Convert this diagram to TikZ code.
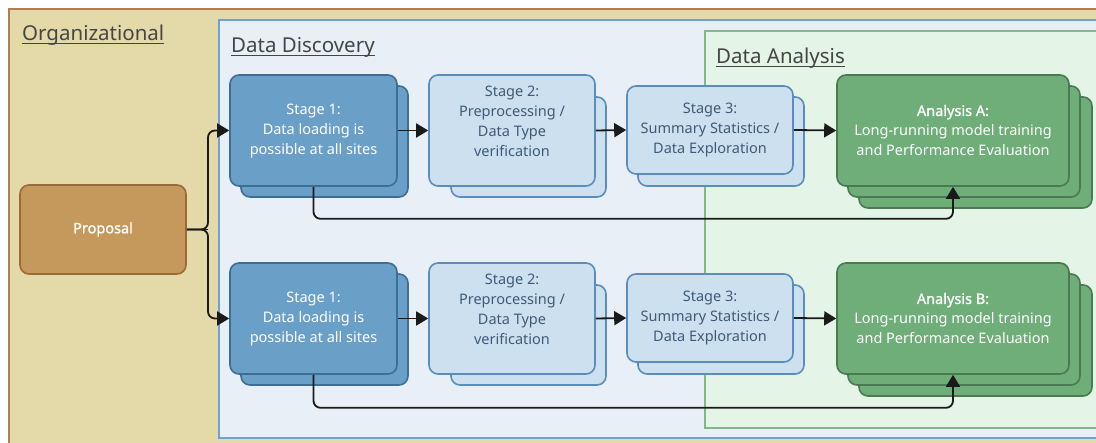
\documentclass[tikz,border=0pt]{standalone}
\usepackage{fontspec}
\setmainfont{Noto Sans}
\newfontfamily\heavyfont[FakeBold=1.2]{Noto Sans}
\usetikzlibrary{arrows.meta}

\definecolor{orgfill}{HTML}{E3D9A9}
\definecolor{orgline}{HTML}{B07F52}
\definecolor{ddfill}{HTML}{E8EFF7}
\definecolor{ddline}{HTML}{6FA1D2}
\definecolor{dafill}{HTML}{E4F4E6}
\definecolor{daline}{HTML}{82B883}
\definecolor{s1fill}{HTML}{6A9FC7}
\definecolor{s1line}{HTML}{3E6D95}
\definecolor{s2fill}{HTML}{CDE0EF}
\definecolor{s2line}{HTML}{5B8CBC}
\definecolor{s2text}{HTML}{3F5A78}
\definecolor{anfill}{HTML}{6FAE78}
\definecolor{anline}{HTML}{4A7A52}
\definecolor{prfill}{HTML}{C4995B}
\definecolor{prline}{HTML}{9A6A3B}
\definecolor{headtext}{HTML}{454545}
\definecolor{arrowcol}{HTML}{1A1A1A}

\begin{document}
\begin{tikzpicture}[x=1pt,y=-1pt,
  container/.style={line width=1.6pt},
  heading/.style={anchor=base west, inner sep=0pt, text=headtext,
    font=\fontsize{20.5}{24}\selectfont},
  headline/.style={draw=headtext, line width=1.2pt},
  box/.style={draw, rounded corners=9pt, line width=1.6pt, inner sep=0pt,
    align=center, font=\fontsize{14.5}{20}\selectfont},
  stageone/.style={box, fill=s1fill, draw=s1line, text=white},
  stagetwo/.style={box, fill=s2fill, draw=s2line, text=s2text},
  analysis/.style={box, fill=anfill, draw=anline, text=white},
  proposal/.style={box, fill=prfill, draw=prline, text=white},
  flow/.style={draw=arrowcol, line width=1.8pt, rounded corners=7pt,
    -{Triangle[length=12pt,width=14pt]}},
  link/.style={draw=arrowcol, line width=1.8pt, rounded corners=7pt}
]
\useasboundingbox (0,0) rectangle (1096,443);
\clip (0,0) rectangle (1096,443);

% nested areas
\draw[container, fill=orgfill, draw=orgline] (9,9) rectangle (1120,470);
\draw[container, fill=ddfill, draw=ddline] (219,20) rectangle (1120,438);
\draw[container, fill=dafill, draw=daline] (705,31) rectangle (1120,428);

% area headings
\node[heading] (horg) at (22,41) {Organizational};
\node[heading] (hdd) at (231,53) {Data Discovery};
\node[heading] (hda) at (716,64) {Data Analysis};
\foreach \h in {horg,hdd,hda}
  \draw[headline] ([yshift=-2.5pt]\h.base west) -- ([yshift=-2.5pt]\h.base east);

% proposal
\node[proposal, minimum width=166pt, minimum height=89pt] (prop) at (103,229.5)
  {{\heavyfont Proposal}};

% two parallel pipelines
\foreach \row/\dy/\tag in {a/0/A, b/188/B}{
  % stage 1
  \node[stageone, minimum width=167pt, minimum height=111pt] (s1\row back) at (324.5,141.5+\dy) {};
  \node[stageone, minimum width=167pt, minimum height=111pt] (s1\row) at (313.5,130.5+\dy)
    {Stage 1:\\Data loading is\\possible at all sites};
  % stage 2
  \node[stagetwo, minimum width=155pt, minimum height=100pt] (s2\row back) at (528.5,147+\dy) {};
  \node[stagetwo, minimum width=166pt, minimum height=111pt] (s2\row) at (512,130.5+\dy) {};
  \node[align=center, text=s2text, inner sep=0pt, font=\fontsize{14.5}{20}\selectfont]
    (s2\row text) at (512,121.5+\dy) {Stage 2:\\Preprocessing /\\Data Type\\verification};
  % stage 3
  \node[stagetwo, minimum width=166pt, minimum height=89pt] (s3\row back) at (721,141.5+\dy) {};
  \node[stagetwo, minimum width=166pt, minimum height=88pt] (s3\row) at (710,130+\dy)
    {Stage 3:\\Summary Statistics /\\Data Exploration};
  % analysis
  \node[analysis, minimum width=233pt, minimum height=111pt] (an\row back) at (975.5,152.5+\dy) {};
  \node[analysis, minimum width=232pt, minimum height=111pt] (an\row mid) at (964,141.5+\dy) {};
  \node[analysis, minimum width=232pt, minimum height=111pt] (an\row) at (953,130.5+\dy)
    {{\heavyfont Analysis \tag:}\\Long-running model training\\and Performance Evaluation};
}

% connectors
\coordinate (split) at (208,229.5);
\draw[link] (prop.east) -- (split);
\draw[flow] (prop.east) -- (split) |- (s1a.west);
\draw[flow] (prop.east) -- (split) |- (s1b.west);

\foreach \row in {a,b}{
  \draw[flow] (s1\row.east) -- (s2\row.west);
  \draw[flow] (s2\row.east) -- (s3\row.west);
  \draw[flow] (s3\row.east) -- (an\row.west);
}
\draw[flow] (s1a.south) -- ++(0,32) -| (ana.south);
\draw[flow] (s1b.south) -- ++(0,33) -| (anb.south);
\end{tikzpicture}
\end{document}
